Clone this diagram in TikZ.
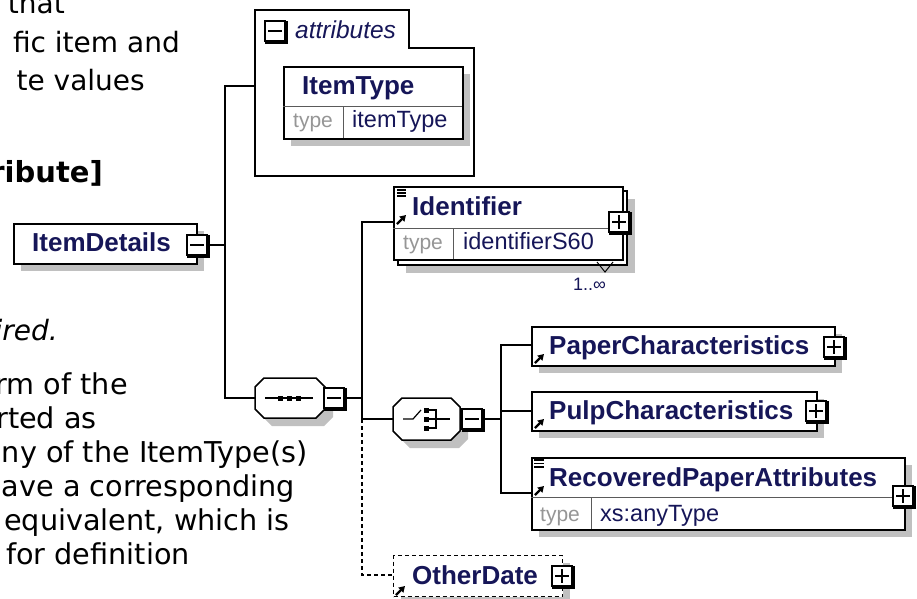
\documentclass[tikz,border=0pt]{standalone}
\usepackage{fontspec}
\setmainfont{DejaVu Sans}
\newfontfamily\afont{Liberation Sans}
\usetikzlibrary{arrows.meta,calc}
\definecolor{navy}{RGB}{22,22,88}
\definecolor{shgray}{RGB}{192,192,192}
\definecolor{tgray}{RGB}{150,150,150}
\definecolor{sepc}{RGB}{90,90,90}
\tikzset{
 conn/.style={line width=1.5pt, draw=black},
 boxl/.style={line width=1.5pt, draw=black, fill=white},
 elbox/.style={boxl, anchor=north west, inner sep=0, rectangle},
 shd/.style={fill=shgray},
 sepl/.style={line width=1pt, draw=sepc},
 lefttxt/.style={anchor=base east, inner sep=0, font=\fontsize{28.7}{34}\selectfont},
 toptxt/.style={anchor=base east, inner sep=0, font=\fontsize{28}{34}\selectfont},
 lbl/.style={anchor=base west, inner sep=0, text=navy, font=\afont\bfseries\fontsize{26}{30}\selectfont},
 typ/.style={anchor=base west, inner sep=0, text=tgray, font=\afont\fontsize{21}{24}\selectfont},
 val/.style={anchor=base west, inner sep=0, text=navy, font=\afont\fontsize{23.5}{27}\selectfont},
 btn/.style={draw=black, fill=white, line width=1.2pt, minimum size=20pt, inner sep=0, rectangle},
 btnsh/.style={line width=2.6pt},
 btnmk/.style={line width=1.4pt},
 refarrow/.style={line width=2.2pt, -{Triangle[length=6pt,width=7pt]}},
 docic/.style={line width=1.1pt},
}
\newcommand{\minusbtn}[3]{%
 \node[btn] (#1) at (#2,#3) {};
 \draw[btnsh] ($(#1.north east)+(0.7,1)$) -- ($(#1.south east)+(0.7,0.7)$) -- ($(#1.south west)+(1,0.7)$);
 \draw[btnmk] ($(#1.west)+(4,0)$) -- ($(#1.east)+(-4,0)$);}
\newcommand{\plusbtn}[3]{%
 \minusbtn{#1}{#2}{#3}%
 \draw[btnmk] ($(#1.north)+(0,4)$) -- ($(#1.south)+(0,-4)$);}
\begin{document}
\begin{tikzpicture}[x=1pt,y=-1pt]
\useasboundingbox (0,0) rectangle (917,598);
\fill[white] (0,0) rectangle (917,598);
\clip (0,0) rectangle (917,598);

% ---------- left text ----------
\node[toptxt] (t1) at (65,13) {that};
\node[toptxt] (t2) at (180,52) {fic item and};
\node[toptxt] (t3) at (145,90) {te values};
\node[lefttxt, font=\bfseries\fontsize{29}{34}\selectfont] (t4) at (103,182) {ribute]};
\node[lefttxt, font=\itshape\fontsize{28}{34}\selectfont] (t5) at (58,340) {ired.};
\node[lefttxt] (t6) at (128,394) {rm of the};
\node[lefttxt] (t7) at (97,428) {rted as};
\node[lefttxt] (t8) at (308,462) {ny of the ItemType(s)};
\node[lefttxt] (t9) at (295,496) {ave a corresponding};
\node[lefttxt] (t10) at (290,530) {equivalent, which is};
\node[lefttxt] (t11) at (190,564) {for definition};

% ---------- ItemDetails ----------
\fill[shd] (21,231) rectangle (204,271);
\node[elbox, minimum width=183pt, minimum height=40pt] (idbox) at (13,223) {};
\node[lbl] (idtxt) at (32,251) {ItemDetails};
\minusbtn{idbtn}{197}{245}

% ---------- attributes panel ----------
\draw[boxl] (255,10) -- (409,10) -- (409,48) -- (474,48) -- (474,176) -- (255,176) -- cycle;
\coordinate (attrW) at (255,86);
\minusbtn{attrbtn}{275}{31}
\node[anchor=base west, inner sep=0, text=navy, font=\afont\itshape\fontsize{24.5}{28}\selectfont] (attrlbl) at (295,38) {attributes};
\fill[shd] (291,74) rectangle (470,146);
\node[elbox, minimum width=179pt, minimum height=72pt] (itbox) at (283,66) {};
\draw[sepl] (283,106) -- (462,106) (343,106) -- (343,138);
\node[lbl] (ittxt) at (302,94) {ItemType};
\node[typ] (ittype) at (293,127) {type};
\node[val] (itval) at (352,127) {itemType};

% ---------- sequence ----------
\fill[shd, shift={(8,8)}] (264,378) -- (316,378) -- (325,387) -- (325,409) -- (316,418) -- (264,418) -- (255,409) -- (255,387) -- cycle;
\draw[boxl] (264,378) -- (316,378) -- (325,387) -- (325,409) -- (316,418) -- (264,418) -- (255,409) -- (255,387) -- cycle;
\node[inner sep=0, minimum width=70pt, minimum height=40pt] (seq) at (290,398) {};
\draw[line width=1.2pt] (265,398) -- (313,398);
\fill (277.5,395.5) rectangle ++(5,5);
\fill (286.5,395.5) rectangle ++(5,5);
\fill (295.5,395.5) rectangle ++(5,5);
\minusbtn{seqbtn}{334}{398}

% ---------- connectors from ItemDetails ----------
\coordinate (j1t) at (225,86);
\coordinate (j1b) at (225,398);
\draw[conn] (idbtn.east) -- (idbtn.east -| j1t);
\draw[conn] (attrW) -- (j1t) -- (j1b) -- (seq.west);

% ---------- Identifier ----------
\fill[shd] (406,199) rectangle (635,273);
\draw[boxl] (398,191) rectangle (627,265);
\node[elbox, minimum width=229pt, minimum height=73pt] (idf) at (393,186) {};
\draw[sepl] (393,228) -- (622,228) (453,228) -- (453,259);
\draw[line width=1pt] (597,262) -- (605,272) -- (613,262);
\node[lbl] (idftxt) at (412,215) {Identifier};
\node[typ] (idftype) at (403,249) {type};
\node[val] (idfval) at (463,249) {identifierS60};
\draw[docic] (397,190) -- ++(9,0) (397,193) -- ++(9,0) (397,196) -- ++(9,0);
\draw[refarrow] (397,224) -- ++(9,-9);
\plusbtn{idfbtn}{619}{222}
\node[anchor=base west, inner sep=0, text=navy, font=\afont\fontsize{18}{20}\selectfont] (mult) at (573,290) {1..∞};

% ---------- choice ----------
\fill[shd, shift={(8,8)}] (402,398) -- (451,398) -- (460,407) -- (460,431) -- (451,440) -- (402,440) -- (393,431) -- (393,407) -- cycle;
\draw[boxl] (402,398) -- (451,398) -- (460,407) -- (460,431) -- (451,440) -- (402,440) -- (393,431) -- (393,407) -- cycle;
\node[inner sep=0, minimum width=67pt, minimum height=42pt] (cho) at (426.5,419) {};
\draw[line width=1.2pt] (403,419) -- (413,419) -- (421,410);
\fill (423.5,407.5) rectangle ++(5,5);
\fill (423.5,416.5) rectangle ++(5,5);
\fill (423.5,425.5) rectangle ++(5,5);
\draw[line width=1.2pt] (428.5,410) -- (436,410) -- (436,428) -- (428.5,428) (428.5,419) -- (450,419);
\minusbtn{chobtn}{472}{419}

% ---------- Paper / Pulp / Recovered ----------
\fill[shd] (539,334) rectangle (842,373);
\node[elbox, minimum width=303pt, minimum height=39pt] (paper) at (531,326) {};
\node[lbl] (papertxt) at (549,354) {PaperCharacteristics};
\draw[refarrow] (535,363) -- ++(9,-9);
\plusbtn{paperbtn}{834}{347}

\fill[shd] (539,399) rectangle (824,438);
\node[elbox, minimum width=285pt, minimum height=39pt] (pulp) at (531,391) {};
\node[lbl] (pulptxt) at (549,419) {PulpCharacteristics};
\draw[refarrow] (535,428) -- ++(9,-9);
\plusbtn{pulpbtn}{816}{411}

\fill[shd] (539,465) rectangle (912,537);
\node[elbox, minimum width=373pt, minimum height=72pt] (rec) at (531,457) {};
\draw[sepl] (531,497) -- (904,497) (591,497) -- (591,529);
\node[lbl] (rectxt) at (549,486) {RecoveredPaperAttributes};
\node[typ] (rectype) at (540,521) {type};
\node[val] (recval) at (600,521) {xs:anyType};
\draw[docic] (534,460) -- ++(10,0) (534,463.5) -- ++(10,0) (534,467) -- ++(10,0);
\draw[refarrow] (535,495) -- ++(9,-9);
\plusbtn{recbtn}{903}{496}

% ---------- OtherDate ----------
\fill[shd] (401,563) rectangle (570,604);
\node[elbox, dash pattern=on 4pt off 3pt, line width=1.3pt, minimum width=169pt, minimum height=41pt] (od) at (393,555) {};
\node[lbl] (odtxt) at (412,584) {OtherDate};
\draw[refarrow] (396,595) -- ++(9,-9);
\plusbtn{odbtn}{562}{576}

% ---------- connectors of sequence / choice ----------
\coordinate (j2m) at (362,398);
\coordinate (j2t) at (362,222);
\coordinate (j2c) at (362,419);
\coordinate (j2b) at (362,575);
\draw[conn] (seqbtn.east) -- (j2m);
\draw[conn] (idf.west |- j2t) -- (j2t) -- (j2c) -- (cho.west);
\draw[conn, dash pattern=on 4pt off 3pt] (j2c) -- (j2b) -- (od.west |- j2b);

\coordinate (j3t) at (501,345);
\coordinate (j3c) at (501,419);
\coordinate (j3p) at (501,411);
\coordinate (j3b) at (501,493);
\draw[conn] (chobtn.east) -- (j3c);
\draw[conn] (paper.west |- j3t) -- (j3t) -- (j3b) -- (rec.west |- j3b);
\draw[conn] (j3p) -- (pulp.west |- j3p);
\end{tikzpicture}
\end{document}
